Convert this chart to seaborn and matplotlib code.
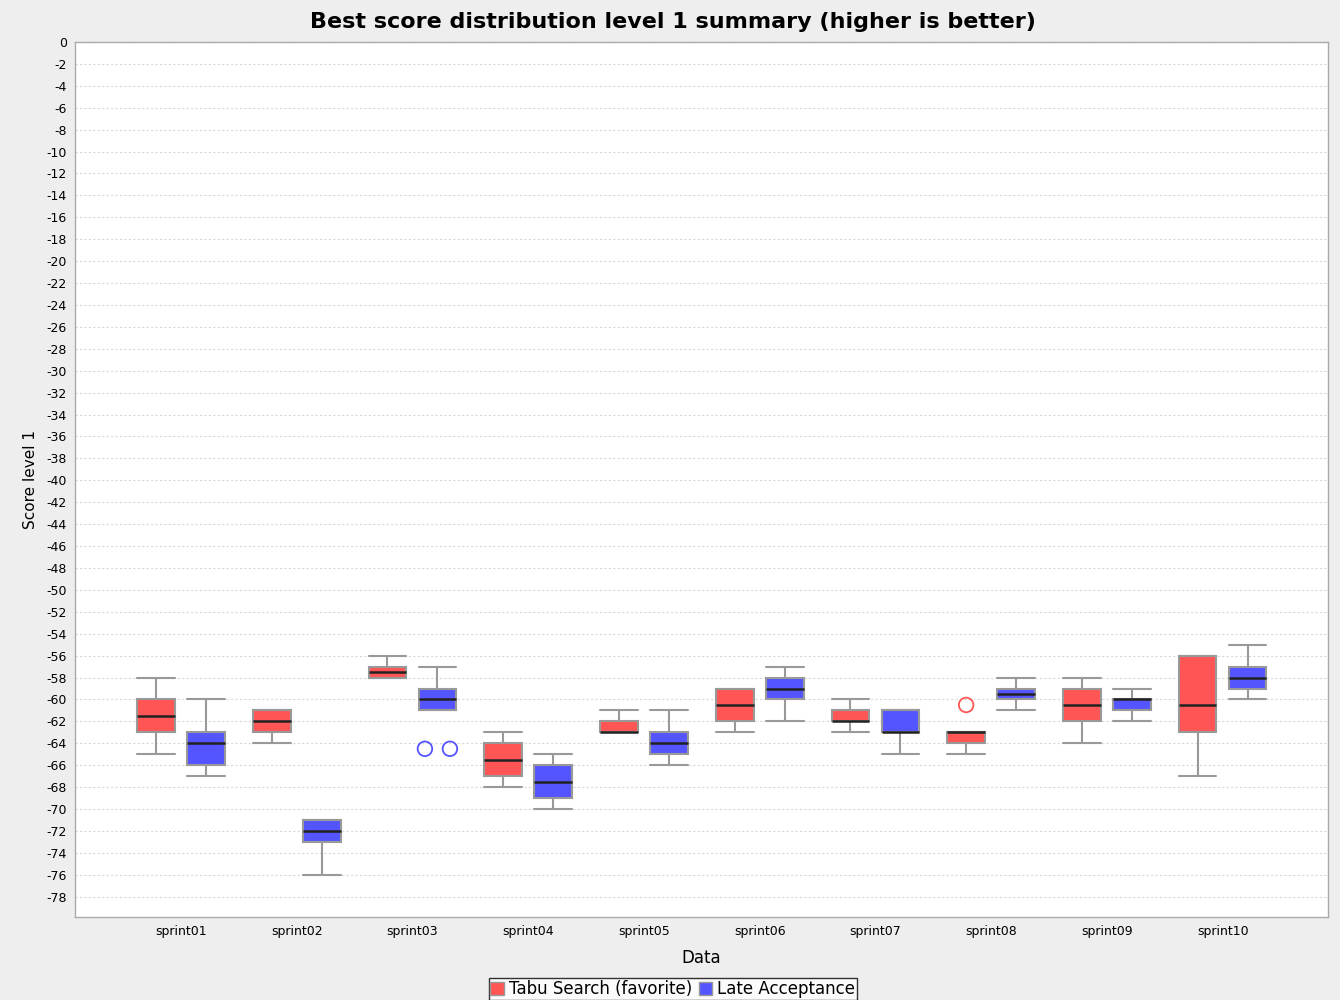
import numpy as np
import pandas as pd
import seaborn as sns
import matplotlib.pyplot as plt
from matplotlib.patches import Patch

sprints = ["sprint01", "sprint02", "sprint03", "sprint04", "sprint05",
           "sprint06", "sprint07", "sprint08", "sprint09", "sprint10"]
series = ["Tabu Search (favorite)", "Late Acceptance"]

# box statistics per sprint
tabu_whislo = [-65, -64, -58, -68, -63, -63, -63, -65, -64, -67]
tabu_q1 = [-63, -63, -58, -67, -63, -62, -62, -64, -62, -63]
tabu_med = [-61.5, -62, -57.5, -65.5, -63, -60.5, -62, -63, -60.5, -60.5]
tabu_q3 = [-60, -61, -57, -64, -62, -59, -61, -63, -59, -56]
tabu_whishi = [-58, -61, -56, -63, -61, -59, -60, -63, -58, -56]

late_whislo = [-67, -76, -61, -70, -66, -62, -65, -61, -62, -60]
late_q1 = [-66, -73, -61, -69, -65, -60, -63, -60, -61, -59]
late_med = [-64, -72, -60, -67.5, -64, -59, -63, -59.5, -60, -58]
late_q3 = [-63, -71, -59, -66, -63, -58, -61, -59, -60, -57]
late_whishi = [-60, -71, -57, -65, -61, -57, -61, -58, -59, -55]

# outliers: (sprint index, value)
tabu_outliers = [(7, -60.5)]
late_outliers = [(2, -64.5), (2, -64.5)]

colors = ["#FF5555", "#5555FF"]


def make_stats(whislo, q1, med, q3, whishi):
    return [dict(whislo=a, q1=b, med=c, q3=d, whishi=e, fliers=[])
            for a, b, c, d, e in zip(whislo, q1, med, q3, whishi)]


def plot_data(filename):
    sns.set_theme(style="white")
    plt.rcParams["font.family"] = ["DejaVu Sans"]
    plt.rcParams["axes.unicode_minus"] = False
    plt.rcParams["text.color"] = "black"
    plt.rcParams["axes.labelcolor"] = "black"
    plt.rcParams["xtick.color"] = "black"
    plt.rcParams["ytick.color"] = "black"

    fig = plt.figure(figsize=(13.4, 10), dpi=100)
    fig.patch.set_facecolor("#EEEEEE")
    ax = fig.add_axes([0.056, 0.083, 0.935, 0.875])
    ax.set_facecolor("white")

    x = np.arange(len(sprints))
    offset = 0.216
    width = 0.326
    all_stats = [make_stats(tabu_whislo, tabu_q1, tabu_med, tabu_q3, tabu_whishi),
                 make_stats(late_whislo, late_q1, late_med, late_q3, late_whishi)]
    for i, stats in enumerate(all_stats):
        pos = x + (-offset if i == 0 else offset)
        ax.bxp(stats, positions=pos, widths=width, patch_artist=True,
               showfliers=False, manage_ticks=False,
               boxprops=dict(facecolor=colors[i], edgecolor="#999999", linewidth=1.5),
               medianprops=dict(color="#222222", linewidth=1.8),
               whiskerprops=dict(color="#999999", linewidth=1.5),
               capprops=dict(color="#999999", linewidth=1.5),
               capwidths=width)

    # outliers, jittered side by side when they coincide
    rows = []
    for i, outs in enumerate([tabu_outliers, late_outliers]):
        seen = {}
        for k, v in outs:
            seen.setdefault((k, v), 0)
            seen[(k, v)] += 1
        for (k, v), n in seen.items():
            base = k + (-offset if i == 0 else offset)
            shifts = [0.0] if n == 1 else np.linspace(-0.108, 0.108, n)
            for s in shifts:
                rows.append(dict(x=base + s, y=v, series=series[i]))
    out_df = pd.DataFrame(rows)
    sns.scatterplot(data=out_df, x="x", y="y", hue="series", palette=dict(zip(series, colors)),
                    ax=ax, s=110, linewidth=1.3, legend=False, marker="o")
    for coll in ax.collections:
        coll.set_facecolor("none")
        coll.set_edgecolor([colors[series.index(s)] for s in out_df["series"]])

    ax.set_ylim(-79.85, 0)
    ax.set_xlim(-0.915, 9.91)
    ax.set_yticks(np.arange(0, -79, -2))
    ax.set_yticklabels([str(v) for v in np.arange(0, -79, -2)], fontsize=9)
    ax.set_xticks(x)
    ax.set_xticklabels(sprints, fontsize=9)
    ax.yaxis.grid(True, linestyle=(0, (2, 2)), color="#D8D8D8", linewidth=0.8)
    ax.xaxis.grid(False)
    ax.tick_params(axis="both", length=2, color="#999999", pad=4)
    for sp in ax.spines.values():
        sp.set_color("#AAAAAA")
        sp.set_linewidth(1)

    ax.set_xlabel("Data", fontsize=12, labelpad=8)
    ax.set_ylabel("Score level 1", fontsize=11, labelpad=6)
    fig.text(0.502, 0.978, "Best score distribution level 1 summary (higher is better)",
             ha="center", va="center", fontsize=16, fontweight="bold")

    handles = [Patch(facecolor=c, edgecolor="#999999") for c in colors]
    leg = fig.legend(handles, series, loc="center", bbox_to_anchor=(0.502, 0.011),
                     ncol=2, fontsize=12, frameon=True, fancybox=False,
                     handlelength=0.8, handleheight=0.8, handletextpad=0.3,
                     columnspacing=0.4, borderpad=0.1, borderaxespad=0)
    leg.get_frame().set_edgecolor("black")
    leg.get_frame().set_linewidth(1)
    leg.get_frame().set_facecolor("white")

    fig.savefig(filename, dpi=100, facecolor=fig.get_facecolor())
    print("Figure saved.")


plot_data("out.png")
